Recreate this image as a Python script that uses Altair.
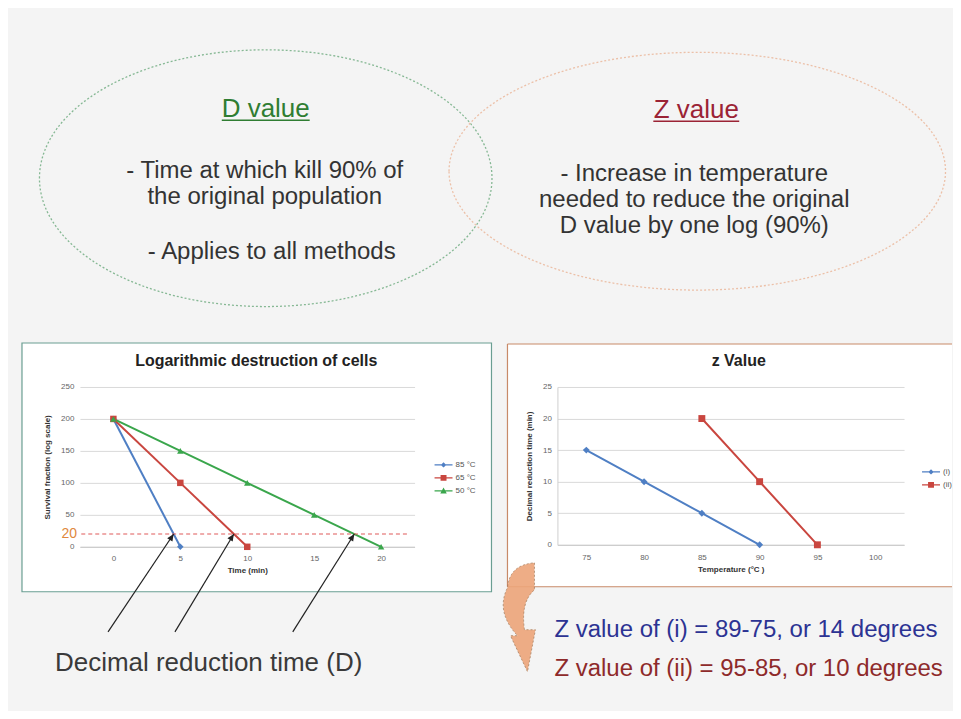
import altair as alt
import pandas as pd

FONT = "Liberation Sans"
BLUE = "#4f7fc4"
RED = "#c9463f"
GREEN = "#3aa64c"

# ---------------- data ----------------
series_left = ["85 °C", "65 °C", "50 °C"]
time_85 = [0, 5]
surv_85 = [200, 0]
time_65 = [0, 5, 10]
surv_65 = [200, 100, 0]
time_50 = [0, 5, 10, 15, 20]
surv_50 = [200, 150, 100, 50, 0]
left_x_ticks = [0, 5, 10, 15, 20]
left_y_ticks = [0, 50, 100, 150, 200, 250]
d_level = [20]
d_line_start = [-2.4]
d_line_end = [22]
arrow_tip_t = [4.5, 9, 18]
arrow_tail_t = [-0.4, 4.6, 13.4]
arrow_tail_y = [-133, -133, -133]

series_right = ["(i)", "(ii)"]
temp_i = [75, 80, 85, 90]
dtime_i = [15, 10, 5, 0]
temp_ii = [85, 90, 95]
dtime_ii = [20, 10, 0]
right_x_ticks = [75, 80, 85, 90, 95, 100]
right_y_ticks = [0, 5, 10, 15, 20, 25]

d_title = ["D value"]
d_lines_1 = ["- Time at which kill 90% of", "the original population"]
d_lines_2 = ["- Applies to all methods"]
z_title = ["Z value"]
z_lines = ["- Increase in temperature", "needed to reduce the original", "D value by one log (90%)"]
left_title = "Logarithmic destruction of cells"
right_title = "z Value"
d_caption = ["Decimal reduction time (D)"]
z_caption_1 = ["Z value of (i) = 89-75, or 14 degrees"]
z_caption_2 = ["Z value of (ii) = 95-85, or 10 degrees"]

one = pd.DataFrame({"k": [0]})
W = 945
OY = 379  # the canvas group origin sits at the top of the plot row


def txt(lines, x, y, size=24, color="#333333", align="center", lh=None):
    props = dict(text=lines if len(lines) > 1 else lines[0], font=FONT, fontSize=size,
                 color=color, align=align, baseline="alphabetic")
    if lh:
        props["lineHeight"] = lh
    return alt.Chart(one).mark_text(**props).encode(x=alt.value(x), y=alt.value(y - OY))


def ellipse_path(ratio):
    k = 0.5523
    r = ratio
    return (f"M-1,0C-1,{-k*r:.4f},{-k:.4f},{-r:.4f},0,{-r:.4f}"
            f"C{k:.4f},{-r:.4f},1,{-k*r:.4f},1,0"
            f"C1,{k*r:.4f},{k:.4f},{r:.4f},0,{r:.4f}"
            f"C{-k:.4f},{r:.4f},-1,{k*r:.4f},-1,0Z")


def ellipse(cx, cy, w, h, color):
    return alt.Chart(one).mark_point(shape=ellipse_path(h / w), size=w * w, filled=False,
                                     stroke=color, strokeWidth=1.3, strokeDash=[2, 2],
                                     opacity=1).encode(x=alt.value(cx), y=alt.value(cy - OY))


def rect(x1, x2, y1, y2, **kw):
    return alt.Chart(one).mark_rect(**kw).encode(
        x=alt.value(x1), x2=alt.value(x2), y=alt.value(y1 - OY), y2=alt.value(y2 - OY))


def hrule(x1, x2, y, color, width=1.2):
    return alt.Chart(one).mark_rule(color=color, strokeWidth=width).encode(
        x=alt.value(x1), x2=alt.value(x2), y=alt.value(y - OY))


def vrule(x, y1, y2, color, width=1.2):
    return alt.Chart(one).mark_rule(color=color, strokeWidth=width).encode(
        x=alt.value(x), y=alt.value(y1 - OY), y2=alt.value(y2 - OY))


# ---------------- slide canvas (background, ellipses, captions) ----------------
TEAL = "#6a9e92"
BROWN = "#c88a68"
CURVE = ("M0.304,-0.964L0.304,-0.482Q0.054,-0.268,0.125,0.232L0.321,0.232L0.179,0.982"
         "L-0.125,0.339L0,0.339Q-0.393,-0.089,-0.179,-0.518Q-0.143,-0.929,0.304,-0.964Z")

canvas = alt.layer(
    rect(0, W, 0, 703, fill="#f4f4f4"),
    rect(14, 484, 335, 584, fill="white", stroke=TEAL, strokeWidth=1.2),
    rect(500, W, 336, 579, fill="white"),
    hrule(500, W, 336, BROWN), hrule(500, W, 579, BROWN), vrule(500, 336, 579, BROWN),
    ellipse(258, 170, 453, 257, "#86b894"),
    ellipse(690, 163, 497, 238, "#ecc0a8"),
    txt(d_title, 258, 109, size=26, color="#2f7d32"),
    hrule(214, 302, 112, "#2f7d32", 1.3),
    txt(d_lines_1, 257, 170, lh=26),
    txt(d_lines_2, 264, 251),
    txt(z_title, 689, 110, size=26, color="#9b2335"),
    hrule(646, 732, 113, "#9b2335", 1.3),
    txt(z_lines, 687, 173, lh=26),
    alt.Chart(one).mark_point(shape=CURVE, size=12544, filled=True, fill="#eda57a", stroke="#a07858",
                              strokeWidth=0.8, strokeDash=[2, 2], opacity=0.9).encode(
        x=alt.value(510), y=alt.value(609 - OY)),
    txt(d_caption, 47, 663, size=26, color="#3a3a3a", align="left"),
    txt(z_caption_1, 547, 629, size=24, color="#2c3393", align="left"),
    txt(z_caption_2, 547, 668, size=24, color="#8e2a2a", align="left"),
).properties(width=72, height=160)


# ---------------- left chart ----------------
def leg_shape(marker):
    return "M-1,-0.07L1,-0.07L1,0.07L-1,0.07Z" + marker


DIAMOND = "M0,-0.3L0.3,0L0,0.3L-0.3,0Z"
SQUARE = "M-0.33,-0.33L0.33,-0.33L0.33,0.33L-0.33,0.33Z"
TRIANGLE = "M0,-0.36L0.36,0.28L-0.36,0.28Z"
ARROW_HEAD = "M0,0L0.45,1L-0.45,1Z"

left_df = pd.DataFrame({
    "time": time_85 + time_65 + time_50,
    "surv": surv_85 + surv_65 + surv_50,
    "series": [series_left[0]] * len(time_85) + [series_left[1]] * len(time_65)
              + [series_left[2]] * len(time_50),
})
xs_l = alt.Scale(domain=[-2.5, 22.5], nice=False, zero=False)
ys_l = alt.Scale(domain=[0, 250], nice=False)
axis_common = dict(labelFont=FONT, labelFontSize=8, labelColor="#666666", titleFont=FONT,
                   titleFontSize=8, titleFontWeight="bold", titleColor="#333333", ticks=False)
x_axis_l = alt.Axis(values=left_x_ticks, title="Time (min)", grid=False, domainColor="#c8c8c8",
                    labelPadding=8, titlePadding=4, **axis_common)
y_axis_l = alt.Axis(values=left_y_ticks, title="Survival fraction (log scale)", grid=True,
                    gridColor="#d9d9d9", domain=False, labelPadding=6, titlePadding=9,
                    **axis_common)
col_l = alt.Scale(domain=series_left, range=[BLUE, RED, GREEN])
legend_l = alt.Legend(orient="none", legendX=355, legendY=69, title=None, labelFont=FONT,
                      labelFontSize=8, labelColor="#555555", symbolSize=324, rowPadding=0,
                      padding=0, labelOffset=3, symbolStrokeWidth=0)

base_l = alt.Chart(left_df).encode(x=alt.X("time:Q", scale=xs_l, axis=x_axis_l),
                                   y=alt.Y("surv:Q", scale=ys_l, axis=y_axis_l))
lines_l = base_l.mark_line(strokeWidth=2).encode(color=alt.Color("series:N", scale=col_l, legend=None))
points_l = base_l.mark_point(filled=True, opacity=1, size=42).encode(
    color=alt.Color("series:N", scale=col_l, legend=None),
    shape=alt.Shape("series:N", scale=alt.Scale(domain=series_left,
                                                range=["diamond", "square", "triangle-up"]),
                    legend=None))
legend_layer_l = alt.Chart(pd.DataFrame({"series": series_left})).transform_filter("false").mark_point(
    filled=True, opacity=1).encode(
    color=alt.Color("series:N", scale=col_l, legend=legend_l),
    shape=alt.Shape("series:N", scale=alt.Scale(domain=series_left,
                                                range=[leg_shape(DIAMOND), leg_shape(SQUARE),
                                                       leg_shape(TRIANGLE)]),
                    legend=legend_l))

dline_df = pd.DataFrame({"t0": d_line_start, "t1": d_line_end, "lvl": d_level})
dline = alt.Chart(dline_df).mark_rule(color="#e05a5a", strokeDash=[4, 3], strokeWidth=1.2).encode(
    x=alt.X("t0:Q", scale=xs_l, axis=x_axis_l), x2="t1:Q",
    y=alt.Y("lvl:Q", scale=ys_l, axis=y_axis_l))
dlabel = alt.Chart(dline_df).mark_text(align="right", baseline="middle", font=FONT, fontSize=14,
                                       color="#e0883c").encode(
    x=alt.value(-3), y=alt.Y("lvl:Q", scale=ys_l, axis=y_axis_l), text=alt.Text("lvl:Q"))

arrow_df = pd.DataFrame({"t_tail": arrow_tail_t, "y_tail": arrow_tail_y,
                         "t_tip": arrow_tip_t, "y_tip": d_level * len(arrow_tip_t)})
arrows = alt.Chart(arrow_df).mark_rule(color="#222222", strokeWidth=1.2).encode(
    x=alt.X("t_tail:Q", scale=xs_l, axis=x_axis_l), y=alt.Y("y_tail:Q", scale=ys_l, axis=y_axis_l),
    x2="t_tip:Q", y2="y_tip:Q")
heads = alt.Chart(arrow_df).mark_point(shape=ARROW_HEAD, filled=True, color="#222222", size=196,
                                       angle=33, opacity=1).encode(
    x=alt.X("t_tip:Q", scale=xs_l, axis=x_axis_l), y=alt.Y("y_tip:Q", scale=ys_l, axis=y_axis_l))

left_chart = alt.layer(lines_l, points_l, legend_layer_l, dline, dlabel, arrows, heads).resolve_scale(
    color="independent", shape="independent").properties(
    width=335, height=160,
    title=alt.TitleParams(left_title, font=FONT, fontSize=16, fontWeight="bold", color="#222222",
                          anchor="middle", frame="group", dx=9, offset=14))

# ---------------- right chart ----------------
right_df = pd.DataFrame({
    "temp": temp_i + temp_ii,
    "dtime": dtime_i + dtime_ii,
    "series": [series_right[0]] * len(temp_i) + [series_right[1]] * len(temp_ii),
})
xs_r = alt.Scale(domain=[72.5, 102.5], nice=False, zero=False)
ys_r = alt.Scale(domain=[0, 25], nice=False)
x_axis_r = alt.Axis(values=right_x_ticks, title="Temperature (°C )", grid=False, domainColor="#c8c8c8",
                    labelPadding=9, titlePadding=4, **axis_common)
y_axis_r = alt.Axis(values=right_y_ticks, title="Decimal reduction time (min)", grid=True,
                    gridColor="#d9d9d9", domain=True, domainColor="#d0d0d0", labelPadding=6,
                    titlePadding=9, **axis_common)
col_r = alt.Scale(domain=series_right, range=[BLUE, RED])
legend_r = alt.Legend(orient="none", legendX=365, legendY=76, title=None, labelFont=FONT,
                      labelFontSize=8, labelColor="#555555", symbolSize=324, rowPadding=0,
                      padding=0, labelOffset=3, symbolStrokeWidth=0)
base_r = alt.Chart(right_df).encode(x=alt.X("temp:Q", scale=xs_r, axis=x_axis_r),
                                    y=alt.Y("dtime:Q", scale=ys_r, axis=y_axis_r))
lines_r = base_r.mark_line(strokeWidth=2).encode(color=alt.Color("series:N", scale=col_r, legend=None))
points_r = base_r.mark_point(filled=True, opacity=1, size=48).encode(
    color=alt.Color("series:N", scale=col_r, legend=None),
    shape=alt.Shape("series:N", scale=alt.Scale(domain=series_right, range=["diamond", "square"]),
                    legend=None))
legend_layer_r = alt.Chart(pd.DataFrame({"series": series_right})).transform_filter("false").mark_point(
    filled=True, opacity=1).encode(
    color=alt.Color("series:N", scale=col_r, legend=legend_r),
    shape=alt.Shape("series:N", scale=alt.Scale(domain=series_right,
                                                range=[leg_shape(DIAMOND), leg_shape(SQUARE)]),
                    legend=legend_r))
right_chart = alt.layer(lines_r, points_r, legend_layer_r).resolve_scale(
    color="independent", shape="independent").properties(
    width=347, height=158,
    title=alt.TitleParams(right_title, font=FONT, fontSize=16, fontWeight="bold", color="#222222",
                          anchor="middle", frame="group", dx=8, offset=14))

spacer = alt.Chart(one).mark_point(opacity=0).properties(width=143, height=160)

chart = alt.hconcat(canvas, left_chart, spacer, right_chart, spacing=0, bounds="flush").properties(
    background="#f4f4f4", padding=0).configure_view(stroke=None)

chart.save("out.html", embed_options={"renderer": "svg", "actions": False})
